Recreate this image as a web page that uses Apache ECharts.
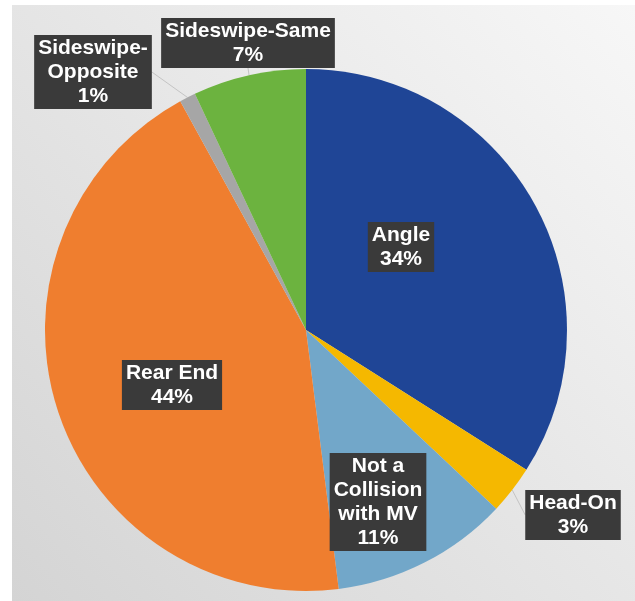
<!DOCTYPE html>
<html>
<head>
<meta charset="utf-8">
<script src="https://cdn.jsdelivr.net/npm/echarts@6/dist/echarts.min.js"></script>
<style>
  html, body { margin: 0; padding: 0; background: #fff; }
  #main { width: 635px; height: 601px; }
</style>
</head>
<body>
<div id="main"></div>
<script>
// crash types, clockwise from 12 o'clock
const categories = ["Angle", "Head-On", "Not a\nCollision\nwith MV", "Rear End", "Sideswipe-\nOpposite", "Sideswipe-Same"];
const shares = [34, 3, 11, 44, 1, 7];

const sliceColors = ["#1f4596", "#f5b800", "#72a7c9", "#ef7e2f", "#a6a6a6", "#6cb33f"];
// label box centres (px)
const labelSpots = [[401, 247], [573, 515], [378, 502], [172, 385], [93, 72], [248, 43]];

const chart = echarts.init(document.getElementById("main"));

const option = {
  animation: false,
  graphic: [{
    type: "rect",
    shape: { x: 12, y: 5, width: 623, height: 596 },
    style: {
      fill: new echarts.graphic.LinearGradient(1, 0, 0, 1, [
        { offset: 0, color: "#f7f7f7" },
        { offset: 1, color: "#d4d4d4" }
      ])
    },
    z: -10
  }],
  series: [{
    type: "pie",
    center: [306, 330],
    radius: 261,
    startAngle: 90,
    clockwise: true,
    avoidLabelOverlap: false,
    itemStyle: { borderWidth: 0 },
    label: {
      show: true,
      formatter: p => p.name + "\n" + p.value + "%",
      color: "#fff",
      fontFamily: "Liberation Sans",
      fontWeight: "bold",
      fontSize: 21,
      lineHeight: 24,
      align: "center",
      backgroundColor: "#3a3a3a",
      padding: [1, 4]
    },
    labelLine: {
      show: true,
      length: 8,
      length2: 0,
      lineStyle: { color: "#c4c4c4", width: 1 }
    },
    labelLayout: p => ({
      x: labelSpots[p.dataIndex][0],
      y: labelSpots[p.dataIndex][1],
      align: "center",
      verticalAlign: "middle"
    }),
    data: categories.map((c, i) => ({
      name: c,
      value: shares[i],
      itemStyle: { color: sliceColors[i] },
      label: { position: [1, 4, 5].includes(i) ? "outside" : "inside" },
      labelLine: { show: [1, 4, 5].includes(i) }
    }))
  }]
};

chart.setOption(option);
</script>
</body>
</html>
